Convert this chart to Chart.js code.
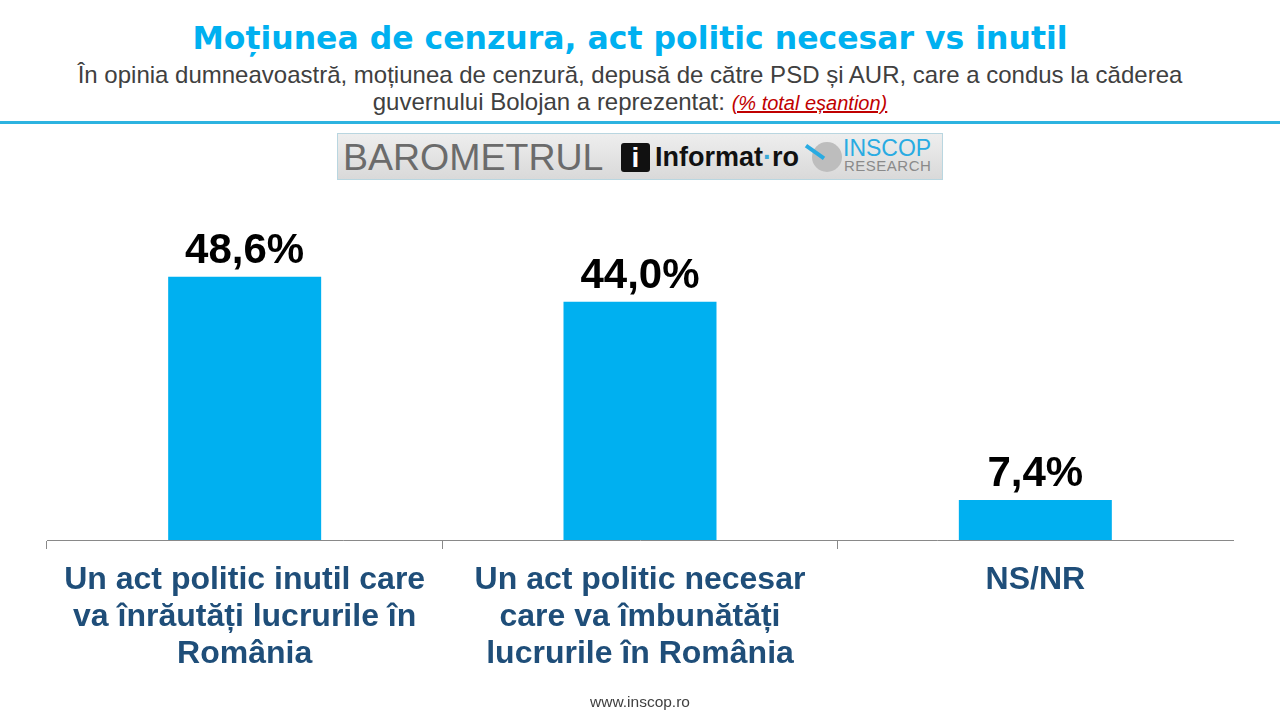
<!DOCTYPE html>
<html>
<head>
<meta charset="utf-8">
<script src="https://cdn.jsdelivr.net/npm/chart.js@4.4.1/dist/chart.umd.min.js"></script>
<style>
  html, body { margin: 0; padding: 0; background: #fff; }
  body { width: 1280px; height: 720px; position: relative; overflow: hidden; font-family: "Liberation Sans", Arial, sans-serif; }
  #title { position: absolute; top: 18px; left: -10px; width: 1280px; text-align: center; font-family: "DejaVu Sans", Verdana, sans-serif; font-size: 31.5px; font-weight: bold; color: #00B0F0; line-height: 40px; }
  #sub { position: absolute; top: 61px; left: -10px; width: 1280px; text-align: center; font-size: 24px; line-height: 27px; color: #404040; }
  #sub .red { color: #C00000; font-style: italic; text-decoration: underline; font-size: 20px; }
  #rule { position: absolute; top: 121px; left: 0; width: 1280px; height: 3px; background: #2DB3E0; }
  #logo { position: absolute; left: 337px; top: 133px; width: 604px; height: 45px; border: 1px solid #b9d6e0;
          background: linear-gradient(to bottom, #eeeeee, #d9d9d9); }
  #baro { position: absolute; left: 5px; top: 2px; font-size: 37.5px; color: #6b6b6b; font-weight: normal; }
  #ibox { position: absolute; left: 283px; top: 9px; width: 29px; height: 29px; border-radius: 3px; background: #111; color: #fff; font-weight: bold; font-size: 28px; line-height: 30px; text-align: center; }
  #inf { position: absolute; left: 317px; top: 8px; font-size: 27px; font-weight: bold; color: #111; }
  #inf .dot { color: #3aa9d8; }
  #circ { position: absolute; left: 474px; top: 8px; width: 30px; height: 30px; border-radius: 50%; background: #bdbdbd; }
  #needle { position: absolute; left: 466px; top: 16px; width: 22px; height: 4px; background: #29ABE2; transform: rotate(35deg); }
  #insc { position: absolute; left: 505px; top: 3px; font-size: 23px; color: #29ABE2; line-height: 22px; }
  #res { position: absolute; left: 506px; top: 24px; font-size: 15px; color: #8a8a8a; line-height: 16px; letter-spacing: 0.5px; }
  #chartBox { position: absolute; left: 0; top: 190px; width: 1280px; height: 530px; }
  #foot { position: absolute; top: 693px; left: 0; width: 1280px; text-align: center; font-size: 15.5px; color: #404040; }
</style>
</head>
<body>
<div id="title">Moțiunea de cenzura, act politic necesar vs inutil</div>
<div id="sub">În opinia dumneavoastră, moțiunea de cenzură, depusă de către PSD și AUR, care a condus la căderea<br>guvernului Bolojan a reprezentat: <span class="red">(% total eșantion)</span></div>
<div id="rule"></div>
<div id="logo">
  <div id="baro">BAROMETRUL</div>
  <div id="ibox">i</div>
  <div id="inf">Informat<span class="dot">·</span>ro</div>
  <div id="circ"></div>
  <div id="needle"></div>
  <div id="insc">INSCOP</div>
  <div id="res">RESEARCH</div>
</div>
<div id="chartBox"><canvas id="c"></canvas></div>
<div id="foot">www.inscop.ro</div>

<script>
// categories (multi-line labels) and values
const categories = [
  ["Un act politic inutil care", "va înrăutăți lucrurile în", "România"],
  ["Un act politic necesar", "care va îmbunătăți", "lucrurile în România"],
  ["NS/NR"]
];
const values = [48.6, 44.0, 7.4];

// draws the value above each bar, Romanian decimal comma
const valueLabels = {
  id: "valueLabels",
  afterDatasetsDraw(chart) {
    const ctx = chart.ctx;
    const meta = chart.getDatasetMeta(0);
    ctx.save();
    ctx.font = "bold 42px 'Liberation Sans', Arial, sans-serif";
    ctx.fillStyle = "#000";
    ctx.textAlign = "center";
    ctx.textBaseline = "alphabetic";
    meta.data.forEach((bar, i) => {
      const txt = values[i].toFixed(1).replace(".", ",") + "%";
      ctx.fillText(txt, bar.x, bar.y - 14);
    });
    ctx.restore();
  }
};

new Chart(document.getElementById("c"), {
  type: "bar",
  data: {
    labels: categories,
    datasets: [{
      data: values,
      backgroundColor: "#00B0F0",
      barPercentage: 0.387,
      categoryPercentage: 1.0
    }]
  },
  options: {
    responsive: true,
    maintainAspectRatio: false,
    animation: false,
    layout: { padding: { top: 25, left: 47, right: 47, bottom: 0 } },
    plugins: { legend: { display: false }, tooltip: { enabled: false } },
    scales: {
      y: { display: false, min: 0, max: 60 },
      x: {
        afterFit: (scale) => { scale.height = 180; },
        border: { display: true, color: "#898989", width: 1 },
        grid: {
          offset: true,
          drawOnChartArea: false,
          drawTicks: true,
          tickLength: 9,
          // no tick mark at the right end of the axis
          color: (c) => (c.type === "tick" ? "#898989" : "rgba(0,0,0,0)")
        },
        ticks: {
          padding: 12,
          color: "#1F4E79",
          font: { family: "'Liberation Sans', Arial, sans-serif", size: 32, weight: "bold", lineHeight: 1.17 }
        }
      }
    }
  },
  plugins: [valueLabels]
});
</script>
</body>
</html>
